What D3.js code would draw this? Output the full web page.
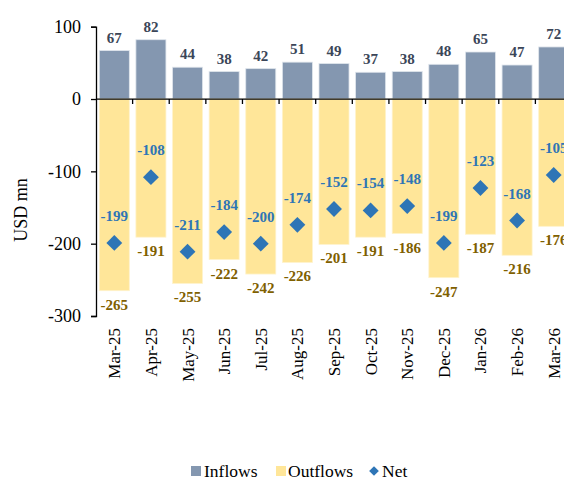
<!DOCTYPE html>
<html>
<head>
<meta charset="utf-8">
<script src="https://cdn.jsdelivr.net/npm/d3@7"></script>
<style>
  body { margin: 0; background: #fff; }
  svg { display: block; font-family: "Liberation Serif", "Times New Roman", serif; }
</style>
</head>
<body>
<div id="chart"></div>
<script>
// Monthly flows, USD mn
const months = ["Mar-25","Apr-25","May-25","Jun-25","Jul-25","Aug-25","Sep-25","Oct-25","Nov-25","Dec-25","Jan-26","Feb-26","Mar-26"];
const inflows = [67, 82, 44, 38, 42, 51, 49, 37, 38, 48, 65, 47, 72];
const outflows = [-265, -191, -255, -222, -242, -226, -201, -191, -186, -247, -187, -216, -176];
const net = [-199, -108, -211, -184, -200, -174, -152, -154, -148, -199, -123, -168, -105];
const yTicks = [100, 0, -100, -200, -300];

const W = 564, H = 481;
const serif = "Liberation Serif, Times New Roman, serif";
const colInflow = "#8497b0", colOutflow = "#ffe699", colNet = "#2e75b6";
const colInLbl = "#3b4658", colOutLbl = "#7f6000";

const svg = d3.select("#chart").append("svg").attr("width", W).attr("height", H);

const x = d3.scaleBand().domain(months).range([96, 572]).paddingInner(0.18).paddingOuter(0.09);
const y = d3.scaleLinear().domain([-300, 100]).range([316, 26.7]);

// Bars
svg.append("g").selectAll("rect").data(months).join("rect")
  .attr("x", d => x(d)).attr("width", x.bandwidth())
  .attr("y", (d, i) => y(inflows[i])).attr("height", (d, i) => y(0) - y(inflows[i]))
  .attr("fill", colInflow).attr("stroke", "#dfe5ec").attr("stroke-width", 0.8);

svg.append("g").selectAll("rect").data(months).join("rect")
  .attr("x", d => x(d)).attr("width", x.bandwidth())
  .attr("y", y(0)).attr("height", (d, i) => y(outflows[i]) - y(0))
  .attr("fill", colOutflow).attr("stroke", "#fff3cc").attr("stroke-width", 0.8);

// Axes (plain hyphen for negatives)
const yAxis = svg.append("g").attr("transform", "translate(96,0)")
  .call(d3.axisLeft(y).tickValues(yTicks).tickSize(5).tickPadding(10).tickFormat(d => String(d)));
yAxis.attr("font-family", serif);
yAxis.select(".domain").attr("stroke", "#000").attr("stroke-width", 1.3);
yAxis.selectAll(".tick line").attr("stroke", "#000").attr("stroke-width", 1.3);
yAxis.selectAll("text").attr("font-size", 18).attr("fill", "#000");

const xAxisG = svg.append("g").attr("transform", `translate(0,${y(0)})`);
xAxisG.append("line").attr("x1", 96).attr("x2", W).attr("stroke", "#000").attr("stroke-width", 1.3);
const step = x.step();
xAxisG.selectAll("line.tk").data(d3.range(1, months.length)).join("line").attr("class", "tk")
  .attr("x1", i => x(months[i]) - (step - x.bandwidth()) / 2)
  .attr("x2", i => x(months[i]) - (step - x.bandwidth()) / 2)
  .attr("y1", 0).attr("y2", 5).attr("stroke", "#000").attr("stroke-width", 1.3);

// Category labels, rotated
svg.append("g").selectAll("text").data(months).join("text")
  .attr("transform", d => `translate(${x(d) + x.bandwidth() / 2 + 6},328) rotate(-90)`)
  .attr("text-anchor", "end").attr("font-size", 17).attr("fill", "#000").text(d => d);

// Y title
svg.append("text").attr("transform", "translate(27,210) rotate(-90)")
  .attr("text-anchor", "middle").attr("font-size", 18).attr("fill", "#000").text("USD mn");

// Net markers
const diamond = d3.symbol().type(d3.symbolDiamond2).size(160);
svg.append("g").selectAll("path").data(months).join("path")
  .attr("d", diamond)
  .attr("transform", (d, i) => `translate(${x(d) + x.bandwidth() / 2},${y(net[i])})`)
  .attr("fill", colNet);

// Value labels
const cx = d => x(d) + x.bandwidth() / 2;
svg.append("g").selectAll("text").data(months).join("text")
  .attr("x", cx).attr("y", (d, i) => y(inflows[i]) - 8)
  .attr("text-anchor", "middle").attr("font-size", 15).attr("font-weight", "bold")
  .attr("fill", colInLbl).text((d, i) => inflows[i]);

svg.append("g").selectAll("text").data(months).join("text")
  .attr("x", cx).attr("y", (d, i) => y(outflows[i]) + 19)
  .attr("text-anchor", "middle").attr("font-size", 15).attr("font-weight", "bold")
  .attr("fill", colOutLbl).text((d, i) => outflows[i]);

svg.append("g").selectAll("text").data(months).join("text")
  .attr("x", cx).attr("y", (d, i) => y(net[i]) - 22)
  .attr("text-anchor", "middle").attr("font-size", 15).attr("font-weight", "bold")
  .attr("fill", colNet).text((d, i) => net[i]);

// Legend
const lg = svg.append("g").attr("font-size", 17.5).attr("fill", "#000");
lg.append("rect").attr("x", 191).attr("y", 466).attr("width", 10).attr("height", 10).attr("fill", colInflow);
lg.append("text").attr("x", 204).attr("y", 477).text("Inflows");
lg.append("rect").attr("x", 276).attr("y", 466).attr("width", 10).attr("height", 10).attr("fill", colOutflow);
lg.append("text").attr("x", 288).attr("y", 477).text("Outflows");
lg.append("path").attr("d", d3.symbol().type(d3.symbolDiamond2).size(60))
  .attr("transform", "translate(374,471)").attr("fill", colNet);
lg.append("text").attr("x", 382).attr("y", 477).text("Net");
</script>
</body>
</html>
